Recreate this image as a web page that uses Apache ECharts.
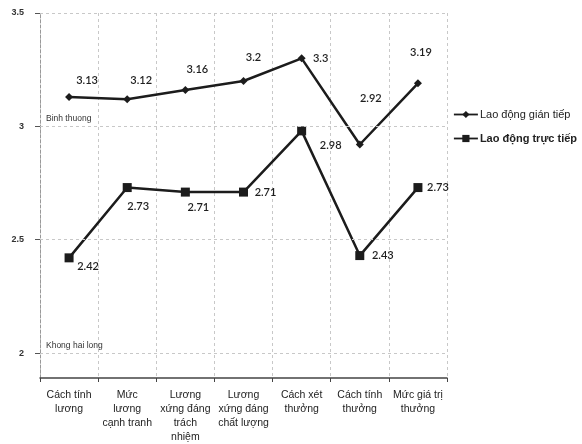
<!DOCTYPE html>
<html>
<head>
<meta charset="utf-8">
<script src="https://cdn.jsdelivr.net/npm/echarts@6/dist/echarts.min.js"></script>
<style>
  html, body { margin: 0; padding: 0; background: #fff; }
  #chart { width: 582px; height: 444px; }
</style>
</head>
<body>
<div id="chart"></div>
<script>
// Satisfaction items (x axis)
const categories = [
  'Cách tính\nlương',
  'Mức\nlương\ncạnh tranh',
  'Lương\nxứng đáng\ntrách\nnhiệm',
  'Lương\nxứng đáng\nchất lượng',
  'Cách xét\nthưởng',
  'Cách tính\nthưởng',
  'Mức giá trị\nthưởng'
];

// Mean scores per worker group
const indirectName = 'Lao động gián tiếp';
const indirectValues = [3.13, 3.12, 3.16, 3.2, 3.3, 2.92, 3.19];
const directName = 'Lao động trực tiếp';
const directValues = [2.42, 2.73, 2.71, 2.71, 2.98, 2.43, 2.73];

// Value axis ticks
const yTicks = [2, 2.5, 3, 3.5];
const levelNotes = { 3: 'Binh thuong', 2: 'Khong hai long' };

// Label placement (pixel offsets from each point)
const indirectLabelOffsets = [[18, -16], [14, -19], [12, -21], [10, -24], [19, 0], [11, -46], [3, -31]];
const directLabelOffsets = [[19, 9], [11, 19], [13, 15], [22, 0], [29, 15], [23, 0], [20, 0]];

const ink = '#1c1c1c';
const labelFont = { fontFamily: 'Lato', fontSize: 11, fontWeight: 600, color: '#1e1e1e' };

function buildPoints(values, offsets) {
  return values.map((v, i) => ({
    value: v,
    label: { offset: offsets[i] }
  }));
}

const gridLines = yTicks.map(t => ({
  yAxis: t,
  label: levelNotes[t]
    ? { show: true, formatter: levelNotes[t], position: 'insideStartTop', distance: [6, 3],
        fontFamily: 'Liberation Sans', fontSize: 8.5, color: '#333' }
    : { show: false }
}));

const chart = echarts.init(document.getElementById('chart'), null, { renderer: 'canvas' });

chart.setOption({
  animation: false,
  backgroundColor: '#fff',
  grid: { left: 40, right: 135, top: 13, bottom: 65, containLabel: false },
  legend: {
    orient: 'vertical',
    left: 453,
    top: 109,
    padding: 0,
    itemGap: 13,
    itemWidth: 24,
    itemHeight: 9,
    lineStyle: { width: 1.8 },
    textStyle: { fontFamily: 'Liberation Sans', fontSize: 11, color: '#222', padding: [0, 0, 0, -3] },
    data: [
      { name: indirectName },
      { name: directName, textStyle: { fontWeight: 'bold' } }
    ]
  },
  xAxis: {
    type: 'category',
    data: categories,
    boundaryGap: true,
    axisLine: { lineStyle: { color: '#444', width: 1.5 } },
    axisTick: { show: true, length: 4, lineStyle: { color: '#444' } },
    axisLabel: {
      interval: 0,
      margin: 10,
      fontFamily: 'Liberation Sans',
      fontSize: 10.5,
      lineHeight: 14,
      color: '#222'
    },
    splitLine: { show: true, lineStyle: { color: '#c8c8c8', type: [3, 3], width: 1 } }
  },
  yAxis: {
    type: 'value',
    min: 1.89,
    max: 3.5,
    axisLine: { show: true, lineStyle: { color: '#999', width: 1, type: [3, 2] } },
    axisTick: { show: true, length: 5, customValues: yTicks, lineStyle: { color: '#555' } },
    axisLabel: {
      customValues: yTicks,
      margin: 16,
      fontFamily: 'Liberation Sans',
      fontSize: 9,
      fontWeight: 'bold',
      color: '#333'
    },
    splitLine: { show: false }
  },
  series: [
    {
      name: indirectName,
      type: 'line',
      data: buildPoints(indirectValues, indirectLabelOffsets),
      symbol: 'diamond',
      symbolSize: 8,
      lineStyle: { color: ink, width: 2.5 },
      itemStyle: { color: ink },
      label: Object.assign({ show: true, position: 'inside' }, labelFont),
      markLine: {
        silent: true,
        symbol: 'none',
        lineStyle: { color: '#c8c8c8', type: [3, 3], width: 1 },
        data: gridLines
      },
      z: 3
    },
    {
      name: directName,
      type: 'line',
      data: buildPoints(directValues, directLabelOffsets),
      symbol: 'rect',
      symbolSize: 9,
      lineStyle: { color: ink, width: 2.5 },
      itemStyle: { color: ink },
      label: Object.assign({ show: true, position: 'inside' }, labelFont),
      z: 3
    }
  ]
});
</script>
</body>
</html>
